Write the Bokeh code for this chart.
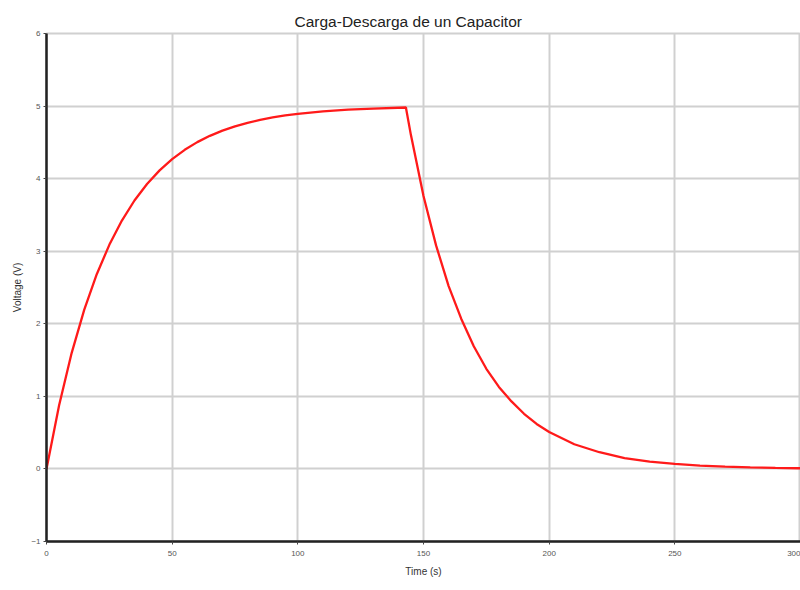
from bokeh.plotting import figure
from bokeh.models import Range1d, FixedTicker
from bokeh.embed import file_html
from bokeh.resources import INLINE

title_text = "Carga-Descarga de un Capacitor"
x_label = "Time (s)"
y_label = "Voltage (V)"

time_s = [0, 5, 10, 15, 20, 25, 30, 35, 40, 45, 50, 55, 60, 65, 70, 75, 80, 85, 90, 95,
          100, 110, 120, 130, 143,
          145, 150, 155, 160, 165, 170, 175, 180, 185, 190, 195, 200,
          210, 220, 230, 240, 250, 260, 270, 280, 290, 300]
voltage_v = [0.0, 0.875, 1.596, 2.192, 2.683, 3.088, 3.423, 3.699, 3.927, 4.114, 4.269, 4.397,
             4.503, 4.590, 4.661, 4.721, 4.769, 4.810, 4.843, 4.871,
             4.893, 4.927, 4.950, 4.966, 4.980,
             4.60, 3.76, 3.08, 2.52, 2.07, 1.69, 1.38, 1.13, 0.93, 0.76, 0.62, 0.51,
             0.34, 0.23, 0.15, 0.10, 0.069, 0.046, 0.031, 0.021, 0.014, 0.009]

x_ticks = [0, 50, 100, 150, 200, 250, 300]
y_ticks = [-1, 0, 1, 2, 3, 4, 5, 6]

p = figure(width=800, height=590, output_backend="svg", toolbar_location=None,
           x_range=Range1d(0, 300), y_range=Range1d(-1, 6),
           min_border_left=46, min_border_right=0, min_border_top=33, min_border_bottom=49)

p.title.text = title_text
p.title.align = "left"
p.title.offset = 248
p.title.text_font = "Liberation Sans"
p.title.text_font_size = "15.5px"
p.title.text_font_style = "normal"
p.title.text_color = "#222222"
p.title.standoff = 7

p.outline_line_color = "#d0d0d0"
p.outline_line_width = 2
p.background_fill_color = "white"
p.border_fill_color = "white"

for ax in (p.xaxis[0], p.yaxis[0]):
    ax.axis_line_color = "#222222"
    ax.axis_line_width = 2.5
    ax.major_tick_line_color = "#444444"
    ax.major_tick_out = 3
    ax.major_tick_in = 0
    ax.minor_tick_line_color = None
    ax.major_label_text_font = "Liberation Sans"
    ax.major_label_text_font_size = "8px"
    ax.major_label_text_color = "#555555"
    ax.axis_label_text_font = "Liberation Sans"
    ax.axis_label_text_font_size = "10px"
    ax.axis_label_text_font_style = "normal"
    ax.axis_label_text_color = "#333333"

p.xaxis[0].ticker = FixedTicker(ticks=x_ticks)
p.yaxis[0].ticker = FixedTicker(ticks=y_ticks)
p.xaxis[0].axis_label = x_label
p.yaxis[0].axis_label = y_label
p.xaxis[0].major_label_standoff = 6
p.yaxis[0].major_label_standoff = 3
p.xaxis[0].axis_label_standoff = 7
p.yaxis[0].axis_label_standoff = 5

p.xgrid.grid_line_color = "#d0d0d0"
p.ygrid.grid_line_color = "#d0d0d0"
p.xgrid.grid_line_width = 2
p.ygrid.grid_line_width = 2

p.line(time_s, voltage_v, line_color="#ff1a1a", line_width=2.3)

open("out.html", "w").write(file_html(p, INLINE))
